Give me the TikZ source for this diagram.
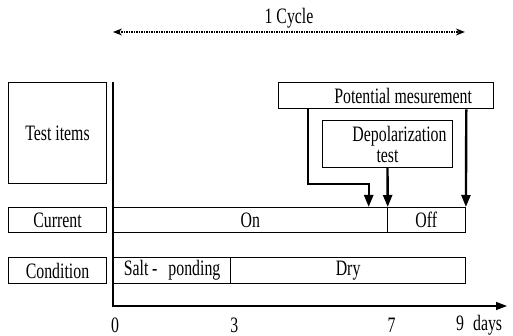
\documentclass[tikz,border=0pt]{standalone}
\usepackage{fontspec}
\setmainfont[FakeStretch=0.72]{Liberation Serif}
\usetikzlibrary{arrows.meta}
\tikzset{
  box/.style={draw,line width=1pt,inner sep=0pt,anchor=north west},
  meas/.style={line width=2.4pt,-{Triangle[length=12pt,width=9pt]}},
}
\begin{document}
\begin{tikzpicture}[x=1pt,y=1pt,yscale=-1,font=\fontsize{22}{22}\selectfont]
\useasboundingbox (0,0) rectangle (513,336);
\def\o{113}
\def\d{39.1}
%cycle
% Text Node
\node (cyc) at (289,18) {1 Cycle};
\coordinate (cl) at (\o,32);
\coordinate (cr) at (\o+9*\d,32);
\draw[dash pattern=on 1.5pt off 1pt,line width=1.2pt,{Stealth[length=9pt,width=7pt]}-{Stealth[length=9pt,width=7pt]}] (cl) -- (cr);

%left column
%Shape: Rectangle
\node[box,minimum width=98,minimum height=101] (items) at (8,82) {Test items};
\node[box,minimum width=98,minimum height=25] (cur) at (8,207) {Current};
\node[box,minimum width=98,minimum height=26] (cond) at (8,257) {Condition};

%time axis
\coordinate (top) at (\o,82);
\coordinate (orig) at (\o,306);
\coordinate (end) at (507,306);
\draw[line width=1.4pt,-{Triangle[length=11pt,width=8pt]}] (top) -- (orig) -- (end);

%current row
\node[box,minimum width=7*\d,minimum height=25] (on) at (\o,207) {On};
\node[box,minimum width=2*\d,minimum height=25] (off) at (\o+7*\d,207) {Off};

%condition row
\node[box,minimum width=3*\d,minimum height=26] (salt) at (\o,257) {Salt\,-\enspace ponding};
\node[box,minimum width=6*\d,minimum height=26] (dry) at (\o+3*\d,257) {Dry};

%measurements
\node[box,line width=1.3pt,minimum width=215,minimum height=26] (pot) at (278,82) {\hspace*{34pt}Potential mesurement};
\node[box,minimum width=130,minimum height=47,align=center] (depol) at (322,120) {\hspace*{24pt}Depolarization\\[-1pt]test};

%Straight Lines
\draw[meas] ([xshift=30pt]pot.south west) -- ++(0,75) -| ([xshift=-19pt]on.north east);
\draw[meas] (depol.south) -- (on.north east);
\draw[meas] ([xshift=-28pt]pot.south east) -- (off.north east);

%days
% Text Node
\node[inner sep=1pt] (l0) at (115,325) {0};
\node[inner sep=1pt] (l3) at (\o+3*\d+4,325) {3};
\node[inner sep=1pt] (l7) at (\o+7*\d+5,325) {7};
\node[inner sep=1pt,anchor=west] (l9) at (455,325) {9\hspace{9pt}days};
\end{tikzpicture}
\end{document}
